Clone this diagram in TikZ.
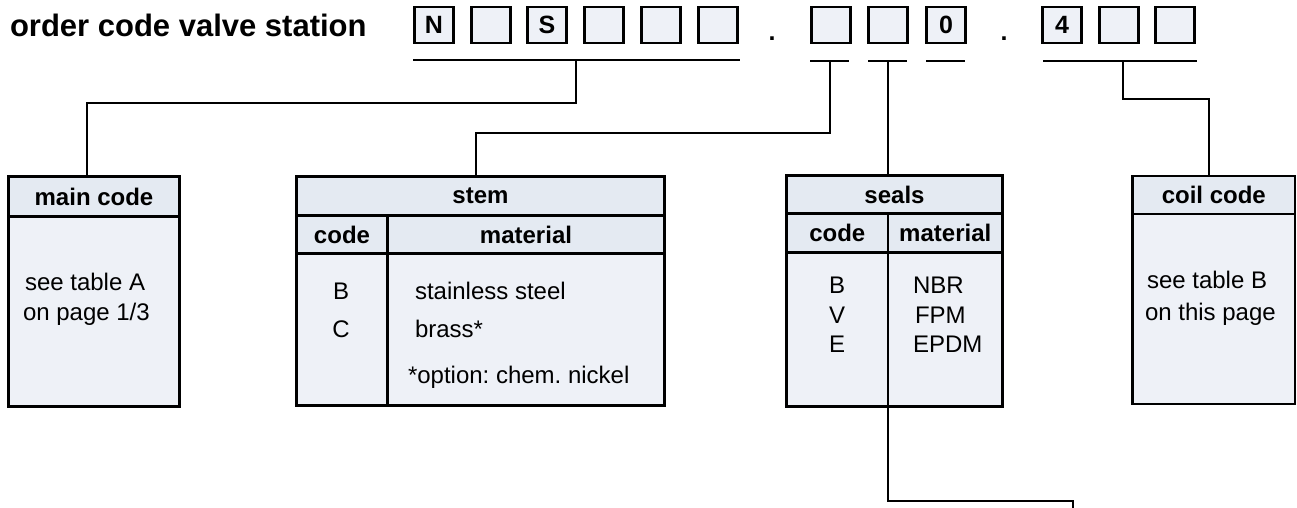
\documentclass[tikz,border=0pt]{standalone}
\usepackage{fontspec}
\setmainfont{Liberation Sans}
\definecolor{headfill}{HTML}{E4EAF2}
\definecolor{bodyfill}{HTML}{EEF1F7}
\frenchspacing

\begin{document}
\begin{tikzpicture}[x=1pt,y=-1pt,line width=2pt,
  code box/.style={draw,line width=2.2pt,fill=bodyfill,minimum width=39pt,minimum height=36pt,inner sep=0pt,outer sep=0pt,font=\fontsize{25}{28}\selectfont\bfseries},
  head cell/.style={draw,line width=2.4pt,fill=headfill,anchor=north west,inner sep=0pt,outer sep=0pt,font=\fontsize{24}{28}\selectfont\bfseries},
  body cell/.style={draw,line width=2.4pt,fill=bodyfill,anchor=north west,inner sep=0pt,outer sep=0pt},
  entry/.style={anchor=base west,inner sep=0pt,font=\fontsize{24}{28}\selectfont}]
\tikzstyle{link} = [draw,line width=2pt,-]

\useasboundingbox (0,0) rectangle (1297,508);

\node[anchor=base west,inner sep=0pt,font=\fontsize{31}{36}\selectfont\bfseries] (title) at (9,37) {order code valve station};

% code boxes
\node[code box] (c1) at (434,25) {N};
\node[code box] (c2) at (491,25) {};
\node[code box] (c3) at (547,25) {S};
\node[code box] (c4) at (604,25) {};
\node[code box] (c5) at (661,25) {};
\node[code box] (c6) at (718,25) {};
\node[anchor=base,inner sep=0pt,font=\fontsize{25}{28}\selectfont\bfseries] (dot1) at (772,41) {.};
\node[code box] (c7) at (831,25) {};
\node[code box] (c8) at (888,25) {};
\node[code box] (c9) at (946,25) {0};
\node[anchor=base,inner sep=0pt,font=\fontsize{25}{28}\selectfont\bfseries] (dot2) at (1004,41) {.};
\node[code box] (c10) at (1062,25) {4};
\node[code box] (c11) at (1119,25) {};
\node[code box] (c12) at (1175,25) {};

% underlines
\coordinate (u1a) at (413,60);
\coordinate (u1b) at (740,60);
\coordinate (u1m) at (576,60);
\coordinate (u2a) at (810,61);
\coordinate (u2b) at (849,61);
\coordinate (u2m) at (830,61);
\coordinate (u3a) at (868,61);
\coordinate (u3b) at (907,61);
\coordinate (u3m) at (888,61);
\coordinate (u4a) at (926,61);
\coordinate (u4b) at (965,61);
\coordinate (u5a) at (1043,61);
\coordinate (u5b) at (1197,61);
\coordinate (u5m) at (1123,61);
\draw (u1a) -- (u1b);
\draw (u2a) -- (u2b);
\draw (u3a) -- (u3b);
\draw (u4a) -- (u4b);
\draw (u5a) -- (u5b);

% main code
\node[head cell,minimum width=171pt,minimum height=40pt] (mainhead) at (8.5,176.5) {main code};
\node[body cell,minimum width=171pt,minimum height=190pt] (mainbody) at (mainhead.south west) {};
\node[entry] (maina) at (24,290) {see table A};
\node[entry] (mainb) at (22,320) {on page 1/3};

% stem
\node[head cell,minimum width=368pt,minimum height=39pt] (stemhead) at (296.5,176.5) {stem};
\node[head cell,minimum width=91pt,minimum height=38pt] (stemcode) at (stemhead.south west) {code};
\node[head cell,minimum width=277pt,minimum height=38pt] (stemmat) at (stemcode.north east) {material};
\node[body cell,minimum width=91pt,minimum height=152pt] (stemcodes) at (stemcode.south west) {};
\node[body cell,minimum width=277pt,minimum height=152pt] (stemmats) at (stemmat.south west) {};
\node[entry,anchor=base] (stemb) at (341,299) {B};
\node[entry,anchor=base] (stemc) at (341,337) {C};
\node[entry] (steel) at (414,299) {stainless steel};
\node[entry] (brass) at (414,337) {brass*};
\node[entry] (option) at (407,383) {*option: chem. nickel};

% seals
\node[head cell,minimum width=216pt,minimum height=38pt] (sealshead) at (786.5,175.5) {seals};
\node[head cell,minimum width=101.5pt,minimum height=39pt] (sealscode) at (sealshead.south west) {code};
\node[head cell,minimum width=114.5pt,minimum height=39pt] (sealsmat) at (sealscode.north east) {material};
\node[body cell,minimum width=101.5pt,minimum height=154pt] (sealscodes) at (sealscode.south west) {};
\node[body cell,minimum width=114.5pt,minimum height=154pt] (sealsmats) at (sealsmat.south west) {};
\node[entry,anchor=base] (sealb) at (837,293) {B};
\node[entry,anchor=base] (sealv) at (837,323) {V};
\node[entry,anchor=base] (seale) at (837,352) {E};
\node[entry] (nbr) at (912,293) {NBR};
\node[entry] (fpm) at (914,323) {FPM};
\node[entry] (epdm) at (912,352) {EPDM};

% coil code
\node[head cell,minimum width=162.5pt,minimum height=38pt] (coilhead) at (1132.5,176) {coil code};
\node[body cell,minimum width=162.5pt,minimum height=190pt] (coilbody) at (coilhead.south west) {};
\node[entry] (coila) at (1146,288) {see table B};
\node[entry] (coilb) at (1144,320) {on this page};

% connectors
\coordinate (cut) at (1073,512);
\draw[link] (u1m) -- ++(0,43) -| ([xshift=-7pt]mainhead.north);
\draw[link] (u2m) -- ++(0,72) -| ([xshift=-4.5pt]stemhead.north);
\draw[link] (u3m) -- (u3m |- sealshead.north);
\draw[link] (u3m |- sealscodes.south) -- ++(0,94) -| (cut);
\draw[link] (u5m) -- ++(0,38) -| ([xshift=-5pt]coilhead.north);

\end{tikzpicture}
\end{document}
